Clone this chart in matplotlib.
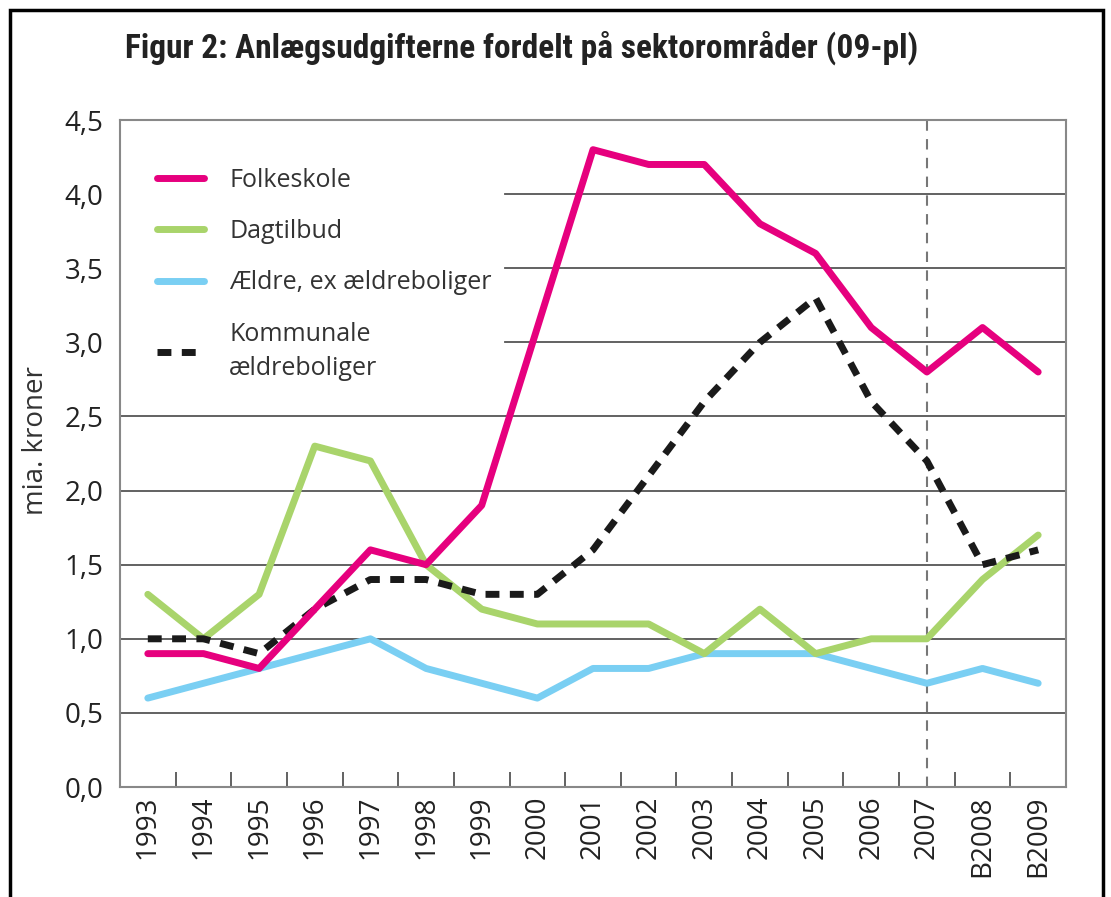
import numpy as np
import matplotlib
matplotlib.use('Agg')
import matplotlib.pyplot as plt
from matplotlib import font_manager
from matplotlib.patches import Rectangle

# data (mia. kroner, 09-pl)
years = ['1993', '1994', '1995', '1996', '1997', '1998', '1999', '2000', '2001',
         '2002', '2003', '2004', '2005', '2006', '2007', 'B2008', 'B2009']
folkeskole = [0.9, 0.9, 0.8, 1.2, 1.6, 1.5, 1.9, 3.1, 4.3, 4.2, 4.2, 3.8, 3.6, 3.1, 2.8, 3.1, 2.8]
dagtilbud = [1.3, 1.0, 1.3, 2.3, 2.2, 1.5, 1.2, 1.1, 1.1, 1.1, 0.9, 1.2, 0.9, 1.0, 1.0, 1.4, 1.7]
aeldre = [0.6, 0.7, 0.8, 0.9, 1.0, 0.8, 0.7, 0.6, 0.8, 0.8, 0.9, 0.9, 0.9, 0.8, 0.7, 0.8, 0.7]
kommunale = [1.0, 1.0, 0.9, 1.2, 1.4, 1.4, 1.3, 1.3, 1.6, 2.1, 2.6, 3.0, 3.3, 2.6, 2.2, 1.5, 1.6]
yticks = [0.0, 0.5, 1.0, 1.5, 2.0, 2.5, 3.0, 3.5, 4.0, 4.5]
ytick_labels = ['0,0', '0,5', '1,0', '1,5', '2,0', '2,5', '3,0', '3,5', '4,0', '4,5']

plt.rcParams['font.family'] = ['Open Sans', 'DejaVu Sans']

# a narrow face for the title if one is installed
names = {f.name for f in font_manager.fontManager.ttflist}
title_font = 'DejaVu Sans'
for cand in ['Liberation Sans Narrow', 'Roboto Condensed', 'Open Sans Condensed',
             'DejaVu Sans Condensed', 'Noto Sans Condensed']:
    if cand in names:
        title_font = cand
        break

fig = plt.figure(figsize=(11.11, 8.97), dpi=100)
ax = fig.add_axes([0.108, 0.1226, 0.8515, 0.7436])

x = np.arange(len(years))

# gridlines (upper ones start right of the legend)
for v in yticks[1:-1]:
    xmin = 0.407 if v >= 3.0 else 0.0
    ax.axhline(v, xmin=xmin, xmax=1, color='#555555', lw=1.3, zorder=1)

# dashed marker at 2007
ax.axvline(years.index('2007'), color='#777777', lw=1.5, linestyle=(0, (5, 4)), zorder=1)

lw = 5
ax.plot(x, aeldre, color='#7ACFF3', lw=lw, solid_joinstyle='round', solid_capstyle='round',
        label='Ældre, ex ældreboliger', zorder=3)
ax.plot(x, dagtilbud, color='#A9D46B', lw=lw, solid_joinstyle='round', solid_capstyle='round',
        label='Dagtilbud', zorder=4)
ax.plot(x, kommunale, color='#1a1a1a', lw=lw, linestyle=(0, (2, 1.5)), dash_capstyle='butt',
        label='Kommunale\nældreboliger', zorder=5)
ax.plot(x, folkeskole, color='#E6007E', lw=lw, solid_joinstyle='round', solid_capstyle='round',
        label='Folkeskole', zorder=6)

ax.set_xlim(-0.5, len(years) - 0.5)
ax.set_ylim(0, 4.5)
ax.set_yticks(yticks)
ax.set_yticklabels(ytick_labels, fontsize=20, color='#222222')
ax.tick_params(axis='y', length=0, pad=12)
ax.set_xticks(x)
ax.set_xticklabels(years, rotation=90, fontsize=20, color='#222222')
ax.tick_params(axis='x', which='major', length=0, pad=6)
ax.set_xticks(np.arange(0.5, len(years) - 1, 1), minor=True)
ax.tick_params(axis='x', which='minor', direction='in', length=11, width=1.3, color='#555555')

for s in ax.spines.values():
    s.set_color('#888888')
    s.set_linewidth(1.5)

ax.set_ylabel('mia. kroner', fontsize=20, color='#333333')
ax.yaxis.set_label_coords(-0.074, 0.52)

handles, labels = ax.get_legend_handles_labels()
order = [3, 1, 0, 2]
leg = ax.legend([handles[i] for i in order], [labels[i] for i in order],
                loc='upper left', bbox_to_anchor=(0.015, 0.962), frameon=False,
                fontsize=18, handlelength=1.9, handletextpad=1.0, labelspacing=1.05,
                labelcolor='#333333')
leg.get_texts()[3].set_linespacing(1.5)

fig.text(125 / 1111, 1 - 48 / 897, 'Figur 2: Anlægsudgifterne fordelt på sektorområder (09-pl)',
         family=[title_font, 'DejaVu Sans'], fontweight='bold', fontstretch='condensed',
         fontsize=24, color='#222222', va='center', ha='left')

# outer frame
fig.patches.append(Rectangle((10 / 1111, -0.05), 1093 / 1111, 1.05 - 10 / 897,
                             transform=fig.transFigure, fill=False, edgecolor='black', lw=2.5))

fig.savefig('out.png', dpi=100)
